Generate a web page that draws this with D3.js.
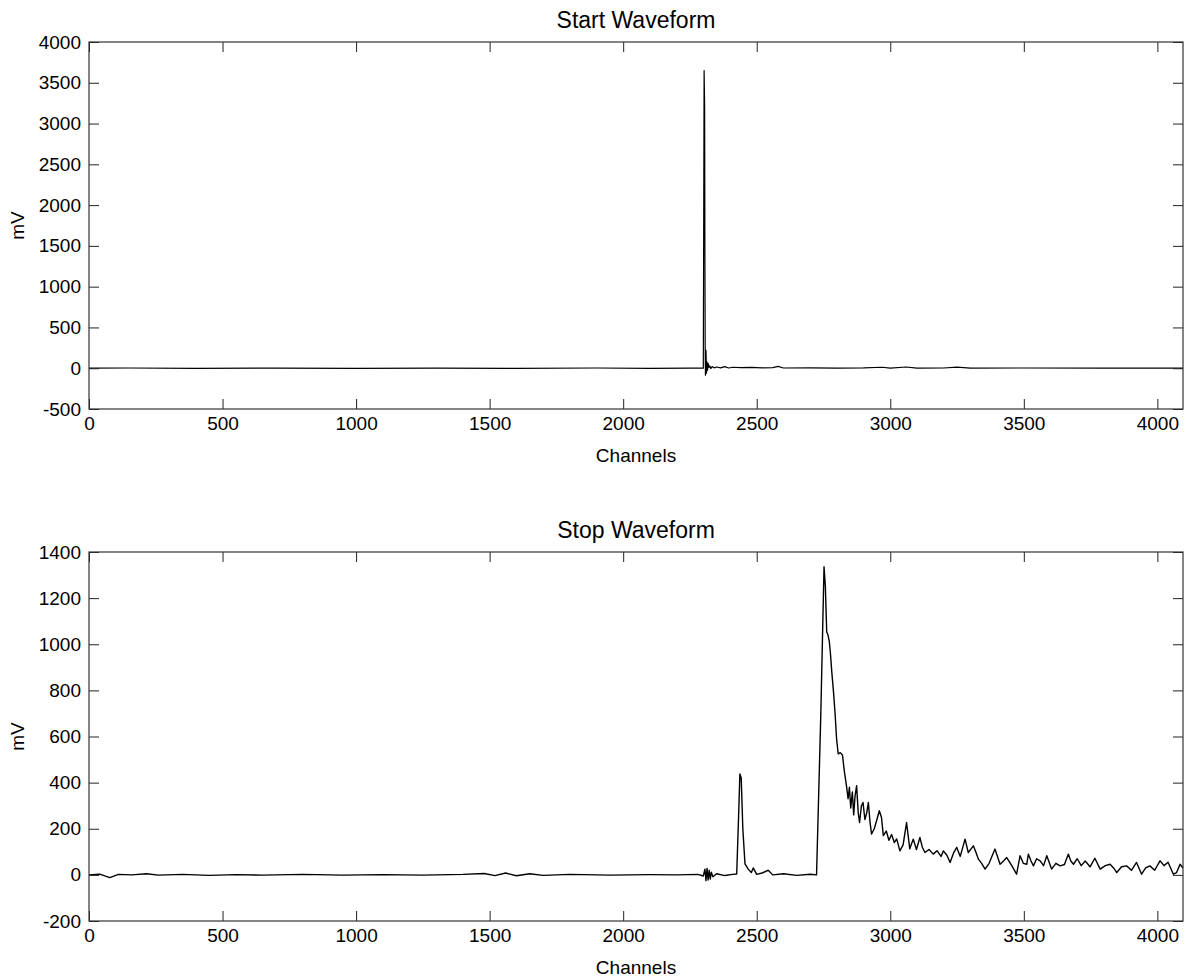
<!DOCTYPE html>
<html lang="en">
<head>
<meta charset="UTF-8">
<script src="https://d3js.org/d3.v7.min.js"></script>
<title>Start / Stop Waveform</title>
<style>
    body { margin: 0; background: #fff; }
    svg text { font-family: "Liberation Sans", Arial, sans-serif; fill: #000; }
</style>
</head>
<body>
<div id="draw_here"></div>

<script type="text/javascript">

    // channel ticks shared by both panels
    var xTicks = [0, 500, 1000, 1500, 2000, 2500, 3000, 3500, 4000];
    var startTicks = [-500, 0, 500, 1000, 1500, 2000, 2500, 3000, 3500, 4000];
    var stopTicks = [-200, 0, 200, 400, 600, 800, 1000, 1200, 1400];

    // start waveform
    var startChannels = [
        0, 150, 400, 700, 1000, 1300, 1600, 1900, 2100, 2250,
        2300, 2303, 2305, 2306, 2307, 2308, 2310, 2312, 2314, 2316,
        2318, 2321, 2324, 2328, 2333, 2340, 2350, 2365, 2380, 2395,
        2410, 2440, 2480, 2520, 2560, 2580, 2600, 2700, 2800, 2900,
        2970, 3000, 3060, 3100, 3200, 3250, 3300, 3500, 3800, 4096
    ];
    var startValues = [
        0, 3, -2, 2, -3, 2, -2, 3, -1, 2,
        0, 3650, 3200, 1350, 300, -86, 220, -60, 77, -25,
        60, 10, 30, -5, 20, 5, 15, 5, 20, 3,
        12, 8, 10, 5, 8, 22, 3, 5, 2, 4,
        12, 2, 15, 2, 3, 14, 2, 3, 2, 0
    ];

    // stop waveform
    var stopChannels = [
        0, 40, 78, 110, 160, 215, 260, 350, 450, 550,
        650, 800, 950, 1100, 1250, 1400, 1480, 1520, 1560, 1600,
        1650, 1700, 1800, 1950, 2100, 2200, 2280, 2300, 2306, 2310,
        2314, 2318, 2322, 2326, 2330, 2336, 2350, 2380, 2410, 2425,
        2432, 2437, 2442, 2448, 2456, 2468, 2480, 2487, 2500, 2520,
        2543, 2560, 2600, 2650, 2700, 2724, 2740, 2752, 2757, 2762,
        2767, 2772, 2776, 2781, 2787, 2793, 2799, 2805, 2813, 2821,
        2828, 2836, 2842, 2847, 2852, 2858, 2863, 2868, 2874, 2880,
        2885, 2892, 2898, 2905, 2912, 2918, 2924, 2930, 2940, 2950,
        2959, 2967, 2974, 2985, 2995, 3005, 3015, 3024, 3036, 3048,
        3061, 3073, 3086, 3098, 3111, 3120, 3130, 3145, 3161, 3175,
        3190, 3199, 3212, 3224, 3237, 3249, 3262, 3280, 3292, 3311,
        3320, 3330, 3342, 3355, 3370, 3392, 3411, 3424, 3436, 3455,
        3473, 3486, 3498, 3511, 3517, 3527, 3536, 3548, 3561, 3574,
        3586, 3604, 3620, 3636, 3652, 3667, 3676, 3686, 3700, 3715,
        3730, 3748, 3766, 3786, 3805, 3823, 3836, 3848, 3866, 3885,
        3903, 3922, 3941, 3956, 3972, 3990, 4010, 4025, 4040, 4060,
        4072, 4085, 4096
    ];
    var stopValues = [
        0, 3, -12, 2, 0, 5, -1, 2, -2, 1,
        -1, 2, -1, 1, -1, 2, 6, -3, 8, -4,
        5, -2, 2, -1, 1, 0, 2, -5, 25, -25,
        28, -22, 20, -18, 12, -8, 5, -3, 2, 4,
        250, 438, 420, 200, 48, 25, 10, 30, 2, 8,
        20, 0, 5, -2, 3, 0, 700, 1336, 1250, 1053,
        1040, 1010, 960, 880, 800, 706, 590, 525, 530, 520,
        450, 387, 330, 380, 290, 360, 260, 340, 387, 270,
        227, 300, 314, 240, 270, 314, 230, 177, 200, 240,
        278, 250, 170, 190, 150, 175, 140, 156, 104, 130,
        227, 113, 155, 110, 162, 120, 97, 110, 90, 105,
        80, 104, 85, 54, 95, 119, 80, 155, 97, 126,
        100, 68, 50, 25, 50, 112, 46, 60, 75, 40,
        3, 83, 50, 46, 90, 60, 39, 70, 61, 40,
        83, 25, 50, 39, 45, 90, 60, 46, 70, 40,
        60, 35, 72, 25, 40, 46, 30, 10, 35, 39,
        20, 54, 3, 30, 39, 20, 61, 40, 55, 3,
        10, 46, 30
    ];

    var width = 1186;
    var height = 977;
    var left = 89, right = 1183;

    var svg = d3.select("#draw_here")
        .append("svg")
        .attr("width", width)
        .attr("height", height);

    function drawPanel(opts) {
        var x = d3.scaleLinear().domain([0, 4096]).range([left, right]);
        var y = d3.scaleLinear().domain(opts.yDomain).range([opts.bottom, opts.top]);
        var g = svg.append("g");
        var tick = 10;
        // plain hyphen for negatives, like the original
        var fmt = d => String(d);

        // waveform
        var pts = opts.channels.map((c, i) => [c, opts.values[i]]);
        g.append("path")
            .datum(pts)
            .attr("fill", "none")
            .attr("stroke", "#000")
            .attr("stroke-width", opts.lineWidth)
            .attr("stroke-linejoin", "round")
            .attr("d", d3.line().x(d => x(d[0])).y(d => y(d[1])));

        // axes with inward ticks, on all four sides
        g.append("g")
            .attr("transform", `translate(0,${opts.bottom})`)
            .call(d3.axisBottom(x).tickValues(xTicks).tickFormat(fmt).tickSizeInner(-tick).tickSizeOuter(0).tickPadding(8));
        g.append("g")
            .attr("transform", `translate(0,${opts.top})`)
            .call(d3.axisTop(x).tickValues(xTicks).tickSizeInner(-tick).tickSizeOuter(0).tickFormat(""));
        g.append("g")
            .attr("transform", `translate(${left},0)`)
            .call(d3.axisLeft(y).tickValues(opts.yTicks).tickFormat(fmt).tickSizeInner(-tick).tickSizeOuter(0).tickPadding(8));
        g.append("g")
            .attr("transform", `translate(${right},0)`)
            .call(d3.axisRight(y).tickValues(opts.yTicks).tickSizeInner(-tick).tickSizeOuter(0).tickFormat(""));

        g.selectAll(".tick line").attr("stroke", "#222");
        g.selectAll(".domain").remove();
        g.selectAll(".tick text").attr("font-size", 19).attr("fill", "#000");

        // frame
        g.append("rect")
            .attr("x", left).attr("y", opts.top)
            .attr("width", right - left).attr("height", opts.bottom - opts.top)
            .attr("fill", "none").attr("stroke", "#333").attr("stroke-width", 1.2);

        g.append("text")
            .attr("x", (left + right) / 2).attr("y", opts.top - 14)
            .attr("text-anchor", "middle").attr("font-size", 23)
            .text(opts.title);
        g.append("text")
            .attr("x", (left + right) / 2).attr("y", opts.bottom + 53)
            .attr("text-anchor", "middle").attr("font-size", 19)
            .text("Channels");
        g.append("text")
            .attr("transform", `translate(24,${(opts.top + opts.bottom) / 2}) rotate(-90)`)
            .attr("text-anchor", "middle").attr("font-size", 19)
            .text("mV");
    }

    drawPanel({
        title: "Start Waveform",
        top: 42, bottom: 409,
        yDomain: [-500, 4000], yTicks: startTicks,
        channels: startChannels, values: startValues,
        lineWidth: 1.2
    });

    drawPanel({
        title: "Stop Waveform",
        top: 552, bottom: 921,
        yDomain: [-200, 1400], yTicks: stopTicks,
        channels: stopChannels, values: stopValues,
        lineWidth: 1.4
    });

</script>
</body>
</html>
